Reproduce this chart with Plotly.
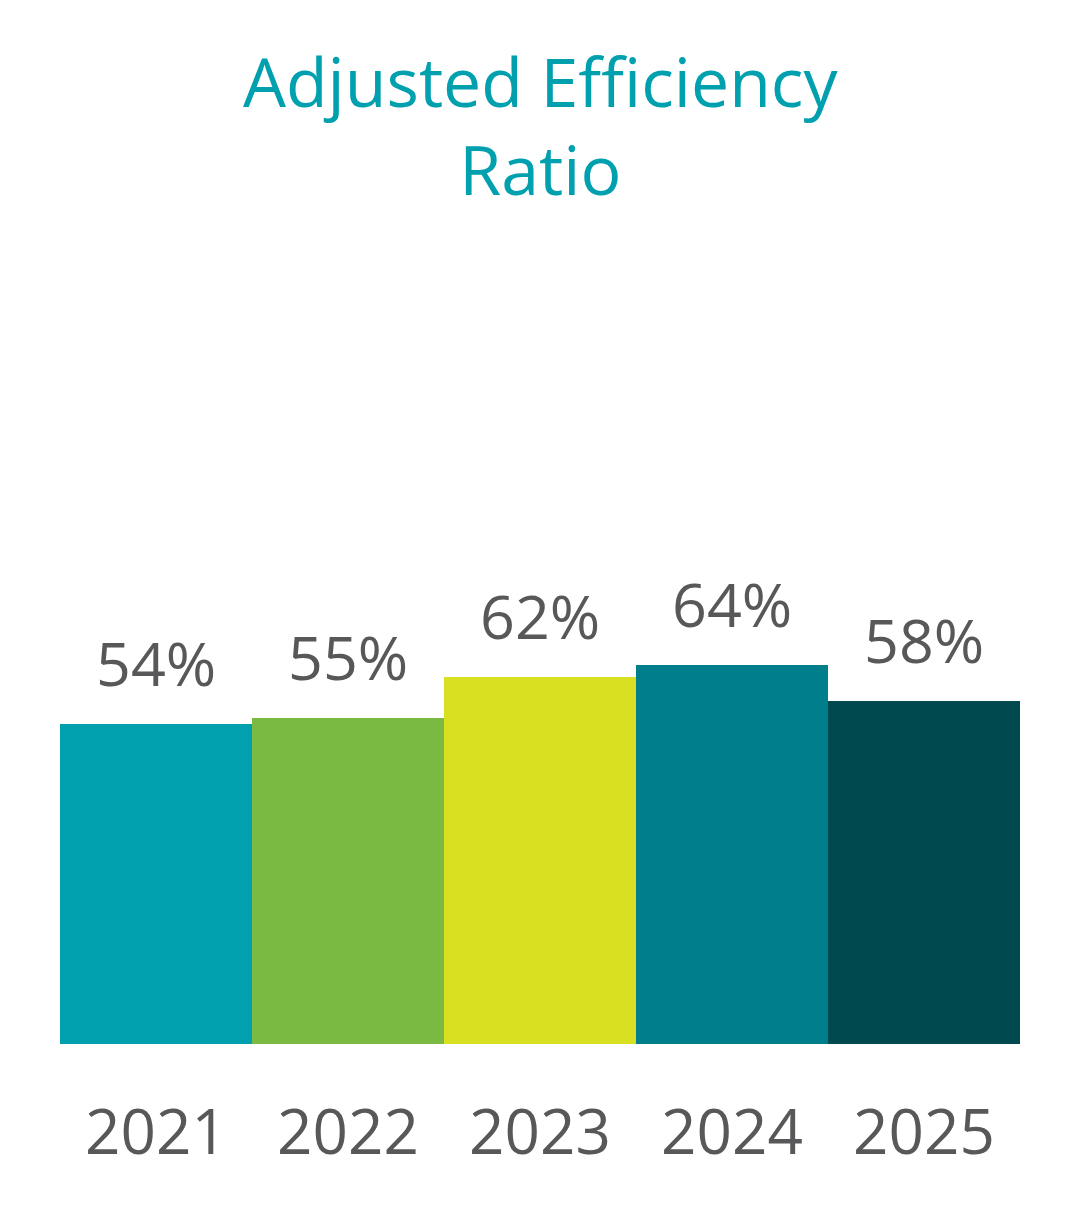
import plotly.graph_objects as go

years = ["2021", "2022", "2023", "2024", "2025"]
ratios = [54, 55, 62, 64, 58]
value_labels = ["54%", "55%", "62%", "64%", "58%"]
bar_colors = ["#00a0af", "#7ab942", "#d9e021", "#007e8b", "#004a4f"]

TEXT_GRAY = "#58585a"
TITLE_TEAL = "#00a0af"
FONT = "Open Sans"

fig = go.Figure()
fig.add_trace(go.Bar(
    x=years, y=ratios, marker=dict(color=bar_colors, line=dict(width=0)),
    hoverinfo="skip", showlegend=False,
))

# category index positions for annotations (numeric-looking strings would be read as indices)
for i, (v, lab) in enumerate(zip(ratios, value_labels)):
    fig.add_annotation(x=i, y=v, text=lab, showarrow=False, xref="x", yref="y",
                       yanchor="bottom", yshift=18,
                       font=dict(family=FONT, size=61, color=TEXT_GRAY))

fig.add_annotation(text="Adjusted Efficiency<br>Ratio", xref="paper", yref="paper",
                   x=0.5, y=(1036 - 116) / 592, xanchor="center", yanchor="middle",
                   showarrow=False, font=dict(family=FONT, size=68, color=TITLE_TEAL))

fig.update_layout(
    width=1080, height=1224,
    margin=dict(l=52, r=68, t=444, b=188, pad=0),
    paper_bgcolor="white", plot_bgcolor="white",
    bargap=0,
    xaxis=dict(type="category", range=[-0.5, len(years) - 0.5],
               showgrid=False, zeroline=False, showline=False, ticks="",
               tickfont=dict(family=FONT, size=62, color=TEXT_GRAY),
               ticklabelstandoff=47),
    yaxis=dict(range=[0, 100], visible=False, showgrid=False, zeroline=False),
)

fig.write_html("out.html", config={"displayModeBar": False})
